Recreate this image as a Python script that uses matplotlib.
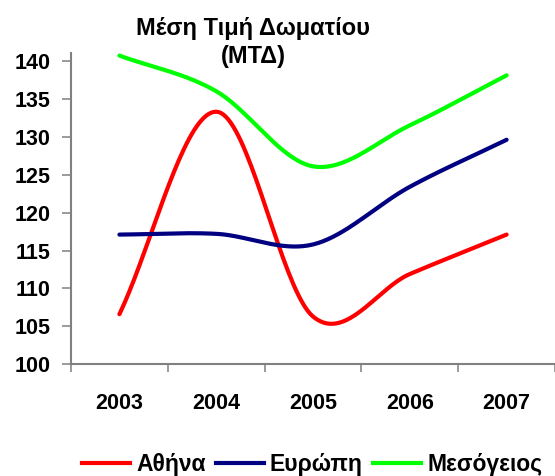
import numpy as np
import matplotlib
matplotlib.use("Agg")
import matplotlib.pyplot as plt
from matplotlib.lines import Line2D

plt.rcParams['font.family'] = ['Liberation Sans', 'DejaVu Sans']

years = ["2003", "2004", "2005", "2006", "2007"]
athens = [106.6, 133.3, 106.3, 111.9, 117.1]
europe = [117.1, 117.2, 115.8, 123.4, 129.6]
med = [140.7, 136.0, 126.1, 131.5, 138.1]
series_names = ["Αθήνα", "Ευρώπη", "Μεσόγειος"]
colors = ["#FF0000", "#000080", "#00FF00"]
yticks = [100, 105, 110, 115, 120, 125, 130, 135, 140]


def smooth(y, n=40):
    """Excel-like smoothed line: cubic Bezier segments (Catmull-Rom style control points)."""
    y = np.asarray(y, float)
    x = np.arange(len(y), dtype=float)
    P = np.column_stack([x, y])
    m = len(P)
    out = []
    t = np.linspace(0, 1, n)[:, None]
    for i in range(m - 1):
        p0, p1 = P[i], P[i + 1]
        if i == 0:
            c1 = p0 + (p1 - p0) / 3.0
        else:
            c1 = p0 + (P[i + 1] - P[i - 1]) / 6.0
        if i + 2 >= m:
            c2 = p1 - (p1 - p0) / 3.0
        else:
            c2 = p1 - (P[i + 2] - P[i]) / 6.0
        seg = ((1 - t) ** 3) * p0 + 3 * ((1 - t) ** 2) * t * c1 + 3 * (1 - t) * t ** 2 * c2 + t ** 3 * p1
        out.append(seg if i == 0 else seg[1:])
    out = np.vstack(out)
    return out[:, 0], out[:, 1]


fig = plt.figure(figsize=(5.55, 4.76), dpi=100)
ax = fig.add_axes([71 / 555, 1 - 364.3 / 476, 1 - 71 / 555, (364.3 - 53.3) / 476])

for vals, c in zip([athens, europe, med], colors):
    xs, ys = smooth(vals)
    ax.plot(xs, ys, color=c, lw=3.0, solid_capstyle='round', solid_joinstyle='round')

ax.set_xlim(-0.5, len(years) - 0.5)
ax.set_ylim(100, 141)
ax.set_yticks(yticks)
ax.set_yticklabels([str(v) for v in yticks], fontsize=15.5, fontweight='bold')
ax.set_xticks(np.arange(len(years) + 1) - 0.5, minor=False)
ax.set_xticklabels([])
ax.set_xticks(np.arange(len(years)), minor=True)
ax.set_xticklabels(years, minor=True, fontsize=15.5, fontweight='bold')
ax.tick_params(axis='x', which='minor', length=0, pad=21)
ax.tick_params(axis='x', which='major', length=5.5, width=1.1, color='#808080', direction='out')
ax.tick_params(axis='y', length=6.5, width=1.1, color='#808080', direction='out', pad=8.5)

for s in ['top', 'right']:
    ax.spines[s].set_visible(False)
for s in ['left', 'bottom']:
    ax.spines[s].set_color('#808080')
    ax.spines[s].set_linewidth(1.5)

fig.text(253 / 555, 1 - 42.5 / 476, "Μέση Τιμή Δωματίου\n(ΜΤΔ)", ha='center', va='center',
         fontsize=17, fontweight='bold', linespacing=1.3)

handles = [Line2D([], [], color=c, lw=3.0) for c in colors]
fig.legend(handles, series_names, loc='center', bbox_to_anchor=(312 / 555, 1 - 465 / 476),
           ncol=3, frameon=False, handlelength=2.1, handletextpad=0.26, columnspacing=0.45,
           prop={'size': 16.5, 'weight': 'bold'}, borderaxespad=0, borderpad=0)

fig.savefig("out.png", dpi=100)
